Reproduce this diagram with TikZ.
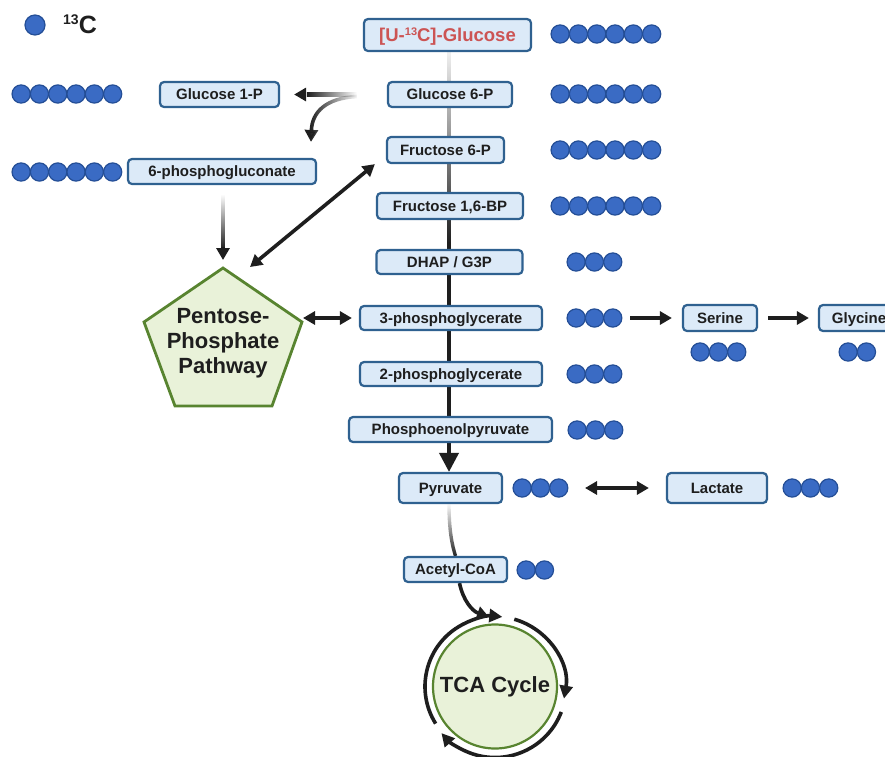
\documentclass[tikz,border=0pt]{standalone}
\usepackage{fontspec}
\setmainfont{Liberation Sans}
\usetikzlibrary{arrows.meta,fadings,calc}
\definecolor{boxfill}{RGB}{220,234,248}
\definecolor{boxline}{RGB}{47,97,144}
\definecolor{dotfill}{RGB}{58,107,196}
\definecolor{dotline}{RGB}{36,78,150}
\definecolor{grfill}{RGB}{233,242,217}
\definecolor{grline}{RGB}{88,132,48}
\definecolor{redtxt}{RGB}{204,84,84}
\definecolor{ink}{RGB}{30,30,30}
\pgfdeclarelayer{back}
\pgfsetlayers{back,main}
\newcommand\carbons[3]{\foreach \k in {1,...,#3}{\draw[dot] ({#1+9.15+(\k-1)*18.3},#2) circle[radius=9.1];}}
\tikzset{
  mbox/.style={draw=boxline, fill=boxfill, line width=2.2pt, rounded corners=4pt,
    font=\fontsize{15}{17}\selectfont\bfseries, text=ink, minimum height=25pt, inner sep=0pt,
    text height=10.7pt, text depth=0pt},
  dot/.style={draw=dotline, fill=dotfill, line width=1.2pt},
  tipA/.tip={Triangle[length=12pt,width=13pt]},
  conn/.style={draw=ink, line width=3.6pt, -tipA},
  dconn/.style={draw=ink, line width=3.6pt, tipA-tipA},
  cyc/.style={draw=ink, line width=3.6pt, -{Triangle[length=13pt,width=13pt]}},
}
\begin{document}
\begin{tikzpicture}[x=1pt,y=-1pt]
\useasboundingbox (0,0) rectangle (885,756);
\clip (0,0) rectangle (885,756);
% legend
\draw[dot] (35,25) circle[radius=10];
\node[anchor=base west, inner sep=0pt, text=ink, font=\fontsize{25}{25}\selectfont\bfseries] (leg) at (63,33) {\raisebox{9pt}{\fontsize{14}{14}\selectfont 13}C};
% main column
\node[mbox, minimum width=167pt, minimum height=32pt, text=redtxt, font=\fontsize{18.5}{20}\selectfont\bfseries, text height=13.2pt] (glc) at (447.5,35) {[U-\raisebox{6.5pt}{\fontsize{11}{11}\selectfont 13}C]-Glucose};
\node[mbox, minimum width=124pt] (g6p) at (450,94.5) {Glucose 6-P};
\node[mbox, minimum width=117pt, minimum height=26pt] (f6p) at (445.5,150) {Fructose 6-P};
\node[mbox, minimum width=146pt, minimum height=26pt] (f16bp) at (450,206) {Fructose 1,6-BP};
\node[mbox, minimum width=146pt, minimum height=24pt] (dhap) at (449.5,262) {DHAP / G3P};
\node[mbox, minimum width=182pt, minimum height=24pt] (pga3) at (451,318) {3-phosphoglycerate};
\node[mbox, minimum width=182pt, minimum height=24pt] (pga2) at (451,374) {2-phosphoglycerate};
\node[mbox, minimum width=203pt] (pep) at (450.5,429.5) {Phosphoenolpyruvate};
\node[mbox, minimum width=103pt, minimum height=30pt] (pyr) at (450.5,488) {Pyruvate};
\node[mbox, minimum width=103pt] (acoa) at (455.5,569.5) {Acetyl-CoA};
\node[mbox, minimum width=100pt, minimum height=30pt] (lac) at (717,488) {Lactate};
\node[mbox, minimum width=74pt, minimum height=26pt] (ser) at (720,318) {Serine};
\node[mbox, minimum width=80pt, minimum height=26pt] (gly) at (859,318) {Glycine};
\node[mbox, minimum width=119pt] (g1p) at (219.5,94.5) {Glucose 1-P};
\node[mbox, minimum width=188pt] (pgl6) at (222,171.5) {6-phosphogluconate};
% carbon dots
\carbons{551}{34}{6}
\carbons{551}{94}{6}
\carbons{551}{150}{6}
\carbons{551}{206}{6}
\carbons{567}{262}{3}
\carbons{567}{318}{3}
\carbons{567}{374}{3}
\carbons{568}{430}{3}
\carbons{513}{488}{3}
\carbons{783}{488}{3}
\carbons{517}{570}{2}
\carbons{691}{352}{3}
\carbons{839}{352}{2}
\carbons{12}{94}{6}
\carbons{12}{172}{6}
% pentose phosphate pathway
\draw[grline, fill=grfill, line width=2.8pt, line join=miter] (223,268) coordinate (pT) -- (302,322) coordinate (pR) -- (272,406) -- (175,406) -- (144,322) -- cycle;
\node[align=center, text=ink, font=\fontsize{22}{25}\selectfont\bfseries] (ppp) at (223,343) {Pentose-\\Phosphate\\Pathway};
% TCA
\node[circle, draw=grline, fill=grfill, line width=2.2pt, minimum size=124pt, inner sep=0pt, text=ink, font=\fontsize{22}{24}\selectfont\bfseries] (tca) at (495,686.5) {TCA Cycle};
\begin{scope}[shift={(tca.center)}, y=1pt]
  \draw[cyc] (212:70) arc[start angle=212, end angle=84, radius=70];
  \draw[cyc] (74:70) arc[start angle=74, end angle=-10, radius=70];
  \draw[cyc] (-21:71) arc[start angle=-21, end angle=-139, radius=71];
\end{scope}
% connectors
\coordinate (ax) at (449,0);
\begin{pgfonlayer}{back}
  \shade[top color=black!6, bottom color=ink] ($(glc.south -| ax)+(-1.9,0)$) rectangle ($(f16bp.south -| ax)+(1.9,24)$);
  \draw[ink, line width=3.8pt, -{Triangle[length=19pt,width=19pt]}] ($(f16bp.south -| ax)+(0,22)$) -- (pyr.north -| ax);
  \draw[ink, line width=3.4pt, path fading=north] (pyr.south -| ax) .. controls (449,530) and (452,545) .. (acoa.north);
  \draw[conn] ($(acoa.south)+(4,0)$) .. controls (463,600) and (472,611) .. (489,617) coordinate (tcain);
\end{pgfonlayer}
% Glucose 6-P to Glucose 1-P (fading)
\shade[left color=ink, right color=white] ($(g6p.west)+(-80,-1.8)$) rectangle ($(g6p.west)+(-30,1.8)$);
\draw[conn] ($(g6p.west)+(-82,0)$) -- ($(g1p.east)+(14,0)$);
\draw[conn, path fading=east] ($(g6p.west)+(-30,2)$) .. controls (326,98) and (312,112) .. ($(pgl6.north)+(89,-16)$);
% 6-phosphogluconate to PPP (fading)
\shade[top color=white, bottom color=ink] ($(pgl6.south)+(-0.8,9)$) rectangle ($(pgl6.south)+(2.8,64)$);
\draw[conn] ($(pgl6.south)+(1,62)$) -- ($(pT)+(0,-8)$);
\draw[dconn] ($(f6p.south west)+(-11,0)$) -- (250,267) coordinate (pNE);
\draw[dconn] ($(pR)+(1,-4)$) -- ($(pga3.west)+(-7,0)$);
\draw[conn] (630,318) coordinate (sdots) -- ($(ser.west)+(-10,0)$);
\draw[conn] ($(ser.east)+(10,0)$) -- ($(gly.west)+(-9,0)$);
\draw[dconn] (585,488) coordinate (pdots) -- ($(lac.west)+(-17,0)$);
\end{tikzpicture}
\end{document}
